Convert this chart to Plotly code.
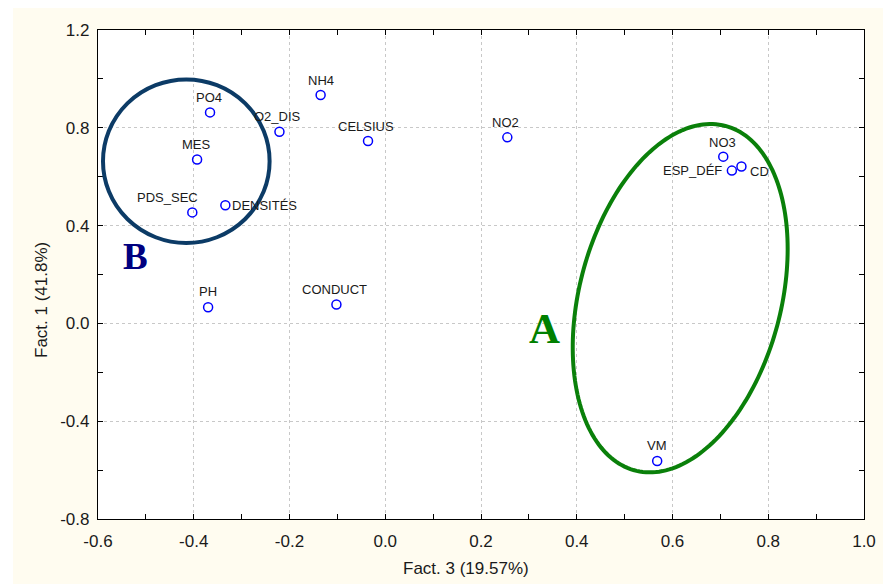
import numpy as np
import plotly.graph_objects as go

# ---- data ----
labels = ["PO4", "NH4", "O2_DIS", "CELSIUS", "MES", "PDS_SEC", "DENSITÉS",
          "PH", "CONDUCT", "NO2", "NO3", "ESP_DÉF", "CD", "VM"]
fact3 = [-0.366, -0.135, -0.221, -0.036, -0.393, -0.403, -0.334,
         -0.370, -0.102, 0.255, 0.706, 0.724, 0.744, 0.568]
fact1 = [0.863, 0.934, 0.784, 0.746, 0.670, 0.454, 0.483,
         0.066, 0.077, 0.761, 0.682, 0.625, 0.642, -0.563]

x_ticks = [-0.6, -0.4, -0.2, 0.0, 0.2, 0.4, 0.6, 0.8, 1.0]
y_ticks = [-0.8, -0.4, 0.0, 0.4, 0.8, 1.2]

# label placement (anchor, xshift, yshift) in px
label_pos = {
    "PO4": ("center", -1, 15), "NH4": ("center", 0, 15), "O2_DIS": ("center", -2, 15),
    "CELSIUS": ("center", -2, 15), "MES": ("center", -1, 15), "PDS_SEC": ("center", -25, 15),
    "DENSITÉS": ("left", 5, 0), "PH": ("center", 0, 16), "CONDUCT": ("center", -2, 15),
    "NO2": ("center", -2, 15), "NO3": ("center", -1, 14), "ESP_DÉF": ("right", -8, 0),
    "CD": ("left", 7, -5), "VM": ("center", 0, 16),
}

# layout geometry (page body has an 8px margin)
OFF = 8
WIN_W, WIN_H = 891, 584
W, H = WIN_W - OFF, WIN_H - OFF
PL, PT, PR, PB = 98, 30, 864, 519          # plot-area edges in window pixels
ML, MT = PL - OFF, PT - OFF
MR, MB = WIN_W - PR, WIN_H - PB
XR = [-0.6, 1.0]
YR = [-0.8, 1.2]
PW, PHh = PR - PL, PB - PT
sx = PW / (XR[1] - XR[0])
sy = PHh / (YR[1] - YR[0])


def px2data(px, py):
    return XR[0] + (px - PL) / sx, YR[1] - (py - PT) / sy


def px2paper(px, py):
    return (px - PL) / PW, (PB - py) / PHh


fig = go.Figure()

fig.add_trace(go.Scatter(
    x=fact3, y=fact1, mode="markers",
    marker=dict(symbol="circle-open", size=9, color="#0000ff", line=dict(width=1.5, color="#0000ff")),
    hoverinfo="text", text=labels, showlegend=False,
))

for lab, xv, yv in zip(labels, fact3, fact1):
    anchor, xs, ys = label_pos[lab]
    fig.add_annotation(x=xv, y=yv, text=lab, showarrow=False, xanchor=anchor, yanchor="middle",
                       xshift=xs, yshift=ys,
                       font=dict(family="Liberation Sans, Arial", size=13, color="#1a1a1a"))

# ellipse A (rotated) built in pixel space
cx, cy, a, b, th = 680.2, 298.2, 178.1, 100.8, np.radians(14.7)
t = np.linspace(0, 2 * np.pi, 200)
ux, uy = np.sin(th), -np.cos(th)
vx, vy = np.cos(th), np.sin(th)
epx = cx + a * np.cos(t) * ux + b * np.sin(t) * vx
epy = cy + a * np.cos(t) * uy + b * np.sin(t) * vy
ex, ey = px2data(epx, epy)
path = "M " + " L ".join(f"{xx:.5f},{yy:.5f}" for xx, yy in zip(ex, ey)) + " Z"
fig.add_shape(type="path", path=path, xref="x", yref="y", line=dict(color="#0a800a", width=4))

# circle B
bx0, by0 = px2data(186.3 - 83.3, 161.2 + 81.8)
bx1, by1 = px2data(186.3 + 83.3, 161.2 - 81.8)
fig.add_shape(type="circle", xref="x", yref="y", x0=bx0, x1=bx1, y0=by0, y1=by1,
              line=dict(color="#0c3b66", width=4))

# group letters
ax_, ay_ = px2data(544, 328)
fig.add_annotation(x=ax_, y=ay_, text="<b>A</b>", showarrow=False,
                   font=dict(family="Liberation Serif, Times New Roman", size=43, color="#008000"))
bxx, byy = px2data(135, 256)
fig.add_annotation(x=bxx, y=byy, text="<b>B</b>", showarrow=False,
                   font=dict(family="Liberation Serif, Times New Roman", size=37, color="#000080"))

# axis titles
tx, ty = px2paper(466, 568)
fig.add_annotation(xref="paper", yref="paper", x=tx, y=ty,
                   text="Fact. 3 (19.57%)", showarrow=False, xanchor="center", yanchor="middle",
                   font=dict(family="Liberation Sans, Arial", size=17, color="#1a1a1a"))
tx, ty = px2paper(42, 300)
fig.add_annotation(xref="paper", yref="paper", x=tx, y=ty,
                   text="Fact. 1 (41.8%)", showarrow=False, textangle=-90, xanchor="center", yanchor="middle",
                   font=dict(family="Liberation Sans, Arial", size=17, color="#1a1a1a"))

# white strip left of the cream panel
wx, _ = px2paper(13, 0)
fig.add_shape(type="rect", xref="paper", yref="paper", x0=-1, x1=wx, y0=-1, y1=2,
              fillcolor="white", line=dict(width=0), layer="below")

axis_common = dict(showline=True, linecolor="black", linewidth=1.2, mirror="ticks",
                   ticks="inside", ticklen=5, tickcolor="black", tickwidth=1,
                   showgrid=True, gridcolor="#c8c8c8", griddash="dot", gridwidth=1,
                   zeroline=False, tickfont=dict(family="Liberation Sans, Arial", size=17, color="#1a1a1a"))

fig.update_xaxes(range=XR, tickvals=x_ticks, ticktext=[f"{v:.1f}" for v in x_ticks],
                 minor=dict(ticks="inside", dtick=0.1, tick0=0, ticklen=5, tickcolor="black", showgrid=False),
                 ticklabelstandoff=6, **axis_common)
fig.update_yaxes(range=YR, tickvals=y_ticks, ticktext=[f"{v:.1f}" for v in y_ticks],
                 minor=dict(ticks="inside", dtick=0.2, tick0=0, ticklen=5, tickcolor="black", showgrid=False),
                 ticklabelstandoff=4, **axis_common)

fig.update_layout(width=W, height=H, margin=dict(l=ML, r=MR, t=MT, b=MB),
                  paper_bgcolor="#fffcf0", plot_bgcolor="white", showlegend=False)

fig.write_html("out.html")
